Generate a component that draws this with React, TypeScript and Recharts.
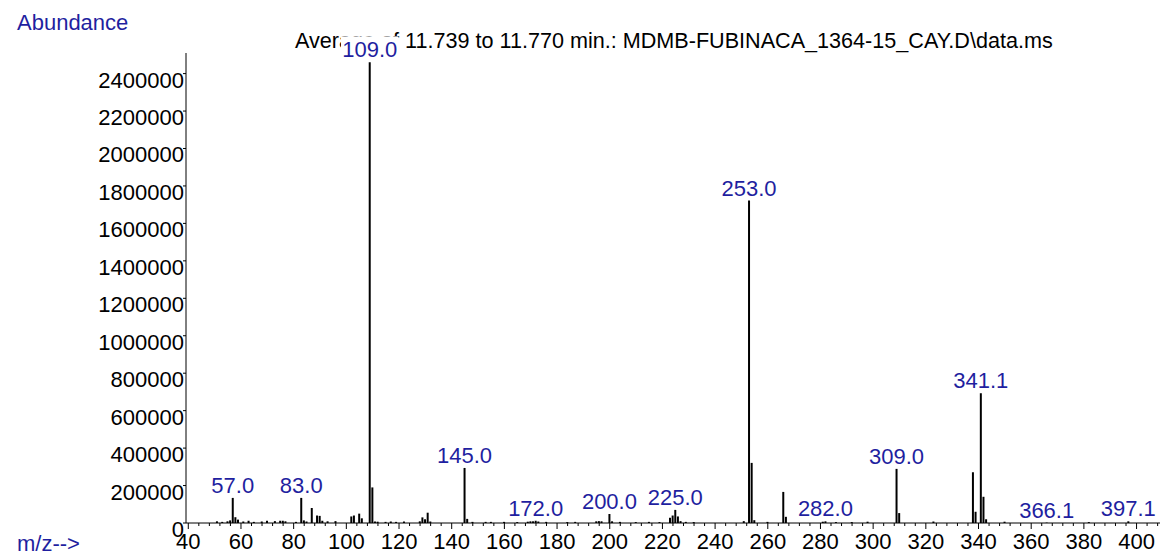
import React from "react";
import { BarChart, Bar, XAxis, YAxis, LabelList } from "recharts";

// m/z values of the peaks
const mzValues = [
  51, 53, 55, 56, 57, 58, 59, 61, 63, 65, 68, 70, 73, 75, 76, 77, 81, 83, 84, 85,
  87, 89, 90, 91, 93, 96, 102, 103, 105, 106, 109, 110, 111, 112, 115, 117, 119, 122,
  128, 129, 130, 131, 132, 145, 146, 148, 153, 155, 160, 165, 169, 170, 171, 172, 173,
  176, 184, 187, 195, 196, 197, 200, 201, 204, 210, 215, 219, 223, 224, 225, 226, 227,
  229, 232, 251, 253, 254, 255, 260, 266, 267, 281, 282, 286, 292, 298, 309, 310, 323,
  338, 339, 341, 342, 343, 350, 366, 382, 397,
];

// abundances matching mzValues
const abundances = [
  9000, 6000, 9000, 14000, 134000, 31000, 18000, 8000, 12000, 6000, 8000, 12000, 10000, 12000, 12000, 9000, 6000, 134000, 14000, 8000,
  80000, 40000, 38000, 12000, 9000, 10000, 35000, 40000, 50000, 25000, 2460000, 190000, 8000, 7000, 6000, 8000, 6000, 8000,
  9000, 30000, 20000, 55000, 8000, 294000, 22000, 6000, 6000, 6000, 6000, 5000, 7000, 9000, 9000, 12000, 8000,
  6000, 5000, 6000, 9000, 10000, 9000, 48000, 9000, 6000, 5000, 6000, 5000, 28000, 40000, 70000, 35000, 10000,
  6000, 5000, 10000, 1722000, 321000, 15000, 6000, 166000, 33000, 7000, 9000, 5000, 5000, 7000, 289000, 53000, 8000,
  271000, 60000, 693000, 140000, 20000, 7000, 2000, 5000, 9000,
];

// annotated peaks
const labelMz = [57, 83, 109, 145, 172, 200, 225, 253, 282, 309, 341, 366, 397];
const labelText = ["57.0", "83.0", "109.0", "145.0", "172.0", "200.0", "225.0", "253.0", "282.0", "309.0", "341.1", "366.1", "397.1"];

const yTicks = [0, 200000, 400000, 600000, 800000, 1000000, 1200000, 1400000, 1600000, 1800000, 2000000, 2200000, 2400000];
const xMajorTicks = [40, 60, 80, 100, 120, 140, 160, 180, 200, 220, 240, 260, 280, 300, 320, 340, 360, 380, 400];
const xMinorTicks = [
  44, 48, 52, 56, 64, 68, 72, 76, 84, 88, 92, 96, 104, 108, 112, 116, 124, 128, 132, 136,
  144, 148, 152, 156, 164, 168, 172, 176, 184, 188, 192, 196, 204, 208, 212, 216, 224, 228, 232, 236,
  244, 248, 252, 256, 264, 268, 272, 276, 284, 288, 292, 296, 304, 308, 312, 316, 324, 328, 332, 336,
  344, 348, 352, 356, 364, 368, 372, 376, 384, 388, 392, 396, 404, 408,
];
const xAllTicks = [...xMajorTicks, ...xMinorTicks].sort((a, b) => a - b);

const data = mzValues.map((mz, i) => {
  const li = labelMz.indexOf(mz);
  return { mz, ab: abundances[i], lbl: li >= 0 ? labelText[li] : "" };
});

const FONT = "'Liberation Sans', Arial, sans-serif";
const BLUE = "#1f1fa0";
const FS = 22;

function XTick(props: any) {
  const { x, y, payload } = props;
  const v = payload.value;
  const major = xMajorTicks.indexOf(v) >= 0;
  return (
    <g>
      <line x1={x} x2={x} y1={y} y2={y + (major ? 6 : 3)} stroke="#000" strokeWidth={1} />
      {major && (
        <text x={x} y={y + 26} textAnchor="middle" fill="#000" fontSize={FS} fontFamily={FONT}>
          {v}
        </text>
      )}
    </g>
  );
}

function YTick(props: any) {
  const { x, y, payload } = props;
  return (
    <g>
      <line x1={x - 3} x2={x} y1={y} y2={y} stroke="#000" strokeWidth={1} />
      <text x={x - 2} y={y + 14} textAnchor="end" fill="#000" fontSize={FS} fontFamily={FONT}>
        {payload.value}
      </text>
    </g>
  );
}

function PeakLabel(props: any) {
  const { x, y, width, value } = props;
  if (!value) return null;
  const cx = Number(x) + Number(width) / 2;
  const w = String(value).length * 11.5;
  return (
    <g>
      <rect x={cx - w / 2} y={Number(y) - 26} width={w} height={22} fill="#fff" />
      <text x={cx} y={Number(y) - 5} textAnchor="middle" fill={BLUE} fontSize={FS} fontFamily={FONT}>
        {value}
      </text>
    </g>
  );
}

export default function App() {
  return (
    <div style={{ position: "relative", width: 1163, height: 556, background: "#fff" }}>
      <style>{"body{margin:0;background:#fff}"}</style>
      <svg width={1163} height={556} style={{ position: "absolute", left: 0, top: 0 }}>
        <text x={17} y={30} fill={BLUE} fontSize={FS} fontFamily={FONT}>Abundance</text>
        <text x={295} y={48} fill="#000" fontSize={21.6} fontFamily={FONT}>
          {"Average of 11.739 to 11.770 min.: MDMB-FUBINACA_1364-15_CAY.D\\data.ms"}
        </text>
        <text x={17} y={551} fill={BLUE} fontSize={FS} fontFamily={FONT}>m/z--&gt;</text>
      </svg>
      <div style={{ position: "absolute", left: 0, top: 0 }}>
        <BarChart width={1163} height={556} data={data} margin={{ top: 53, right: 3, bottom: 0, left: 0 }}>
          <XAxis
            dataKey="mz"
            type="number"
            domain={[39.13, 408.9]}
            allowDataOverflow
            ticks={xAllTicks}
            interval={0}
            tickSize={0}
            tickMargin={0}
            tickLine={false}
            tick={<XTick />}
            axisLine={{ stroke: "#000" }}
            height={33}
          />
          <YAxis
            type="number"
            domain={[0, 2510000]}
            allowDataOverflow
            ticks={yTicks}
            interval={0}
            tickSize={0}
            tickMargin={0}
            tickLine={false}
            tick={<YTick />}
            axisLine={{ stroke: "#000" }}
            width={186}
          />
          <Bar dataKey="ab" fill="#000" barSize={2} isAnimationActive={false}>
            <LabelList dataKey="lbl" content={<PeakLabel />} />
          </Bar>
        </BarChart>
      </div>
    </div>
  );
}
